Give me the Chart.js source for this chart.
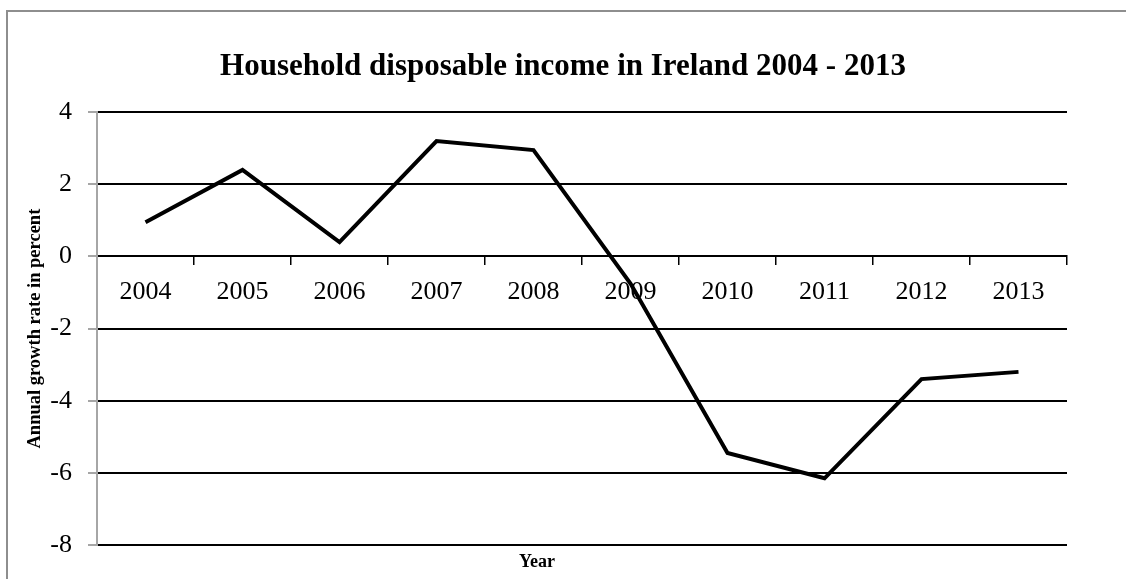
<!DOCTYPE html>
<html>
<head>
<meta charset="utf-8">
<script src="https://cdn.jsdelivr.net/npm/chart.js@4.4.1/dist/chart.umd.min.js"></script>
<style>
  html, body { margin: 0; padding: 0; background: #ffffff; }
  canvas { display: block; }
</style>
</head>
<body>
<canvas id="chart" width="1126" height="579"></canvas>
<script>
// Annual growth of household disposable income, Ireland
const years = ['2004', '2005', '2006', '2007', '2008', '2009', '2010', '2011', '2012', '2013'];
const growth = [0.95, 2.4, 0.4, 3.2, 2.95, -0.75, -5.45, -6.15, -3.4, -3.2];
const yTicks = [-8, -6, -4, -2, 0, 2, 4];

const chartTitle = 'Household disposable income in Ireland 2004 - 2013';
const yTitle = 'Annual growth rate in percent';
const xTitle = 'Year';

const SERIF = '"Liberation Serif", "Times New Roman", serif';

// Grey frame along the top and left edge of the chart
const framePlugin = {
  id: 'frame',
  beforeDraw(chart) {
    const ctx = chart.ctx;
    ctx.save();
    ctx.strokeStyle = '#8e8e8e';
    ctx.lineWidth = 2;
    ctx.beginPath();
    ctx.moveTo(7, chart.height);
    ctx.lineTo(7, 11);
    ctx.lineTo(chart.width, 11);
    ctx.stroke();
    ctx.restore();
  }
};

// Category axis title, placed under the plot
const xTitlePlugin = {
  id: 'xTitle',
  afterDraw(chart) {
    const ctx = chart.ctx;
    ctx.save();
    ctx.font = 'bold 18px ' + SERIF;
    ctx.fillStyle = '#000';
    ctx.textAlign = 'center';
    ctx.textBaseline = 'middle';
    ctx.fillText(xTitle, 537, chart.chartArea.bottom + 17);
    ctx.restore();
  }
};

new Chart(document.getElementById('chart'), {
  type: 'line',
  data: {
    labels: years,
    datasets: [{
      data: growth,
      borderColor: '#000',
      borderWidth: 4,
      pointRadius: 0,
      tension: 0,
      fill: false
    }]
  },
  options: {
    responsive: false,
    devicePixelRatio: 1,
    animation: false,
    layout: { padding: { left: 0, right: 0, top: 0, bottom: 34 } },
    plugins: {
      legend: { display: false },
      tooltip: { enabled: false },
      title: {
        display: true,
        text: chartTitle,
        color: '#000',
        font: { family: SERIF, size: 31, weight: 'bold' },
        padding: { top: 48, bottom: 27 }
      }
    },
    scales: {
      x: {
        type: 'category',
        position: { y: 0 },
        offset: true,
        grid: {
          offset: true,
          drawOnChartArea: false,
          drawTicks: true,
          tickLength: 8,
          color: '#000',
          lineWidth: 1.5
        },
        border: { color: '#000', width: 2 },
        ticks: {
          color: '#000',
          font: { family: SERIF, size: 26 },
          padding: 12,
          maxRotation: 0,
          autoSkip: false
        }
      },
      y: {
        position: 'left',
        min: yTicks[0],
        max: yTicks[yTicks.length - 1],
        afterBuildTicks(scale) {
          scale.ticks = yTicks.map(v => ({ value: v }));
        },
        afterFit(scale) {
          scale.width = 97;
        },
        grid: {
          color: '#000',
          lineWidth: 2,
          drawTicks: true,
          tickLength: 9,
          tickColor: '#a6a6a6'
        },
        border: { color: '#a6a6a6', width: 2 },
        ticks: {
          color: '#000',
          font: { family: SERIF, size: 26 },
          padding: 16
        },
        title: {
          display: true,
          text: yTitle,
          color: '#000',
          font: { family: SERIF, size: 18.5, weight: 'bold' },
          padding: { top: 24, bottom: 0 }
        }
      },
      yRight: {
        position: 'right',
        display: true,
        grid: { display: false, drawTicks: false },
        border: { display: false },
        ticks: { display: false },
        afterFit(scale) {
          scale.width = 59;
        }
      }
    }
  },
  plugins: [framePlugin, xTitlePlugin]
});
</script>
</body>
</html>
